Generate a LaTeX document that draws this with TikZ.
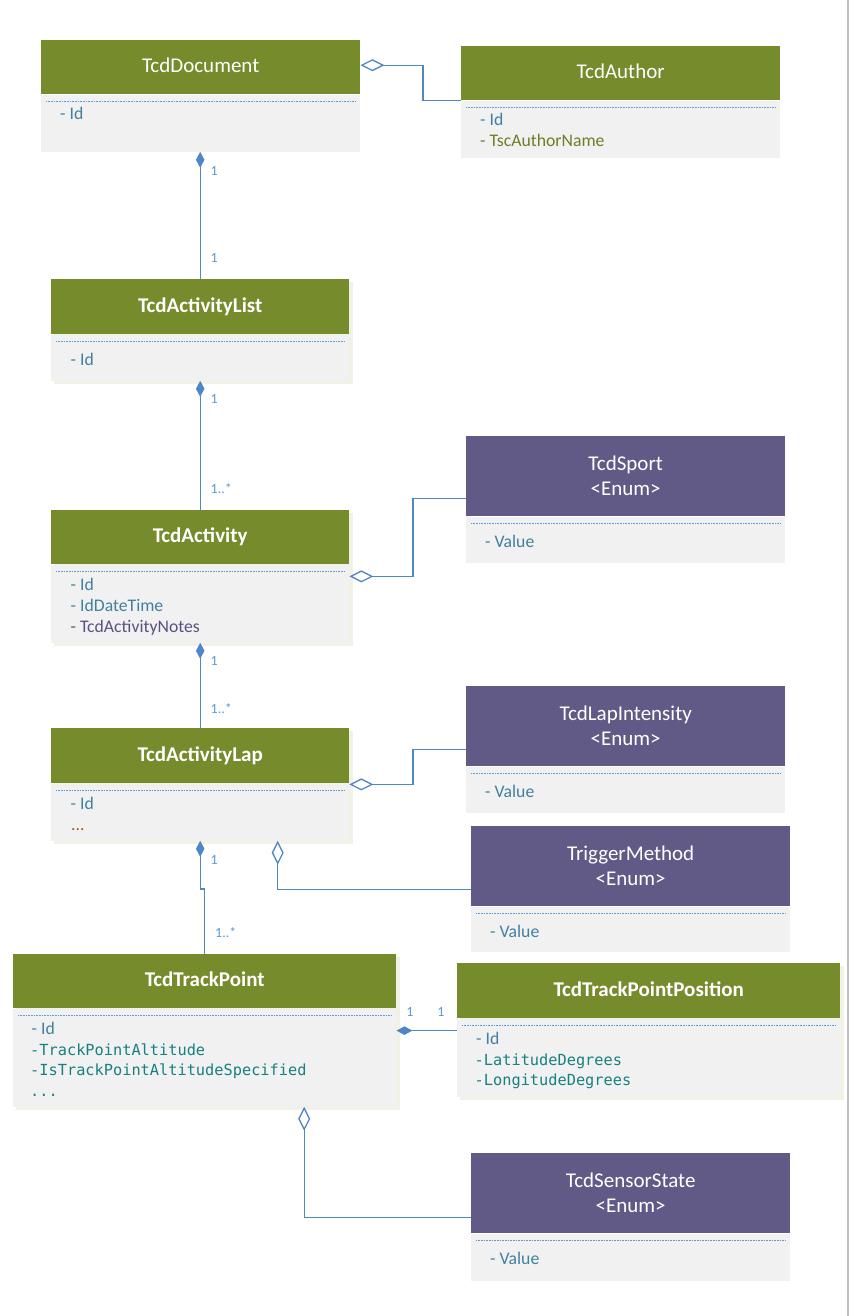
\documentclass[tikz,border=0pt]{standalone}
\usepackage{fontspec}
\setmainfont{Carlito}
\newfontfamily\monof{DejaVu Sans Mono}
\usetikzlibrary{arrows.meta}
\definecolor{hgreen}{HTML}{758B2C}
\definecolor{hpurple}{HTML}{625A86}
\definecolor{bodygray}{HTML}{F1F1F1}
\definecolor{shadowc}{HTML}{F1F1E6}
\definecolor{idc}{HTML}{41809F}
\definecolor{olivec}{HTML}{6E7D27}
\definecolor{notesc}{HTML}{5B5180}
\definecolor{dotsc}{HTML}{B4561C}
\definecolor{monoc}{HTML}{178080}
\definecolor{multc}{HTML}{5B9BD5}
\definecolor{connc}{HTML}{4F87C6}
\definecolor{sepc}{HTML}{5B9BD5}
\begin{document}
\begin{tikzpicture}[x=1pt,y=-1pt,
  hdrbase/.style={inner sep=0pt, anchor=north west, text=white, font=\fontsize{21}{25}\selectfont},
  ghdr/.style={hdrbase, fill=hgreen, text height=14.5pt, text depth=3.5pt},
  bhdr/.style={ghdr, font=\fontsize{21}{25}\selectfont\bfseries},
  phdr/.style={hdrbase, fill=hpurple, align=center},
  bodybox/.style={fill=bodygray, inner sep=0pt, anchor=north west},
  attr/.style={anchor=base west, inner sep=0pt, font=\fontsize{17.7}{21}\selectfont, text=idc},
  mattr/.style={anchor=base west, inner sep=0pt, font=\monof\fontsize{15.3}{21}\selectfont, text=monoc},
  mult/.style={anchor=west, inner sep=0pt, font=\fontsize{14}{16}\selectfont, text=multc},
  sepline/.style={draw=sepc, line width=0.8pt, dash pattern=on 0.8pt off 0.8pt},
  conn/.style={draw=connc, line width=1.3pt},
  agg/.style={conn, -{Diamond[open, length=24pt, width=12pt]}},
  comp/.style={conn, -{Diamond[length=16pt, width=8.5pt]}}
]
\useasboundingbox (0,0) rectangle (850,1316);
\fill[white] (0,0) rectangle (850,1316);
\draw[color=black!25, line width=1.5pt] (848,0) -- (848,1316);

% shadows
\fill[shadowc] (54,282) rectangle (353,384);
\fill[shadowc] (54,513) rectangle (353,646);
\fill[shadowc] (54,731) rectangle (353,844);
\fill[shadowc] (16,957) rectangle (400,1110);
\fill[shadowc] (460,966) rectangle (844,1100);

% TcdDocument
\node[ghdr, minimum width=319pt, minimum height=54pt] (docH) at (41,40) {TcdDocument};
\node[bodybox, minimum width=319pt, minimum height=57pt] (docB) at (docH.south west) {};
\draw[sepline] ([xshift=5pt,yshift=-7pt]docB.north west) -- ([xshift=-5pt,yshift=-7pt]docB.north east);
\node[attr] (docA1) at (60,120) {- Id};

% TcdAuthor
\node[ghdr, minimum width=319pt, minimum height=54pt] (authH) at (461,46) {TcdAuthor};
\node[bodybox, minimum width=319pt, minimum height=57pt] (authB) at (authH.south west) {};
\draw[sepline] ([xshift=5pt,yshift=-7pt]authB.north west) -- ([xshift=-5pt,yshift=-7pt]authB.north east);
\node[attr] (authA1) at (480,125.7) {- Id};
\node[attr, text=olivec] (authA2) at (480,146.7) {- TscAuthorName};

% TcdActivityList
\node[bhdr, minimum width=298pt, minimum height=55pt] (alH) at (51,279) {TcdActivityList};
\node[bodybox, minimum width=298pt, minimum height=46pt] (alB) at (alH.south west) {};
\draw[sepline] ([xshift=5pt,yshift=-7pt]alB.north west) -- ([xshift=-5pt,yshift=-7pt]alB.north east);
\node[attr] (alA1) at (70.5,365) {- Id};

% TcdActivity
\node[bhdr, minimum width=298pt, minimum height=54pt] (actH) at (51,510) {TcdActivity};
\node[bodybox, minimum width=298pt, minimum height=78pt] (actB) at (actH.south west) {};
\draw[sepline] ([xshift=5pt,yshift=-7pt]actB.north west) -- ([xshift=-5pt,yshift=-7pt]actB.north east);
\node[attr] (actA1) at (70.5,590) {- Id};
\node[attr] (actA2) at (70.5,611) {- IdDateTime};
\node[attr, text=notesc] (actA3) at (70.5,632) {- TcdActivityNotes};

% TcdActivityLap
\node[bhdr, minimum width=298pt, minimum height=55pt] (lapH) at (51,728) {TcdActivityLap};
\node[bodybox, minimum width=298pt, minimum height=57pt] (lapB) at (lapH.south west) {};
\draw[sepline] ([xshift=5pt,yshift=-7pt]lapB.north west) -- ([xshift=-5pt,yshift=-7pt]lapB.north east);
\node[attr] (lapA1) at (70.5,809.3) {- Id};
\node[attr, text=dotsc] (lapA2) at (71,830.7) {...};

% TcdTrackPoint
\node[bhdr, minimum width=383pt, minimum height=54pt] (tpH) at (13,954) {TcdTrackPoint};
\node[bodybox, minimum width=383pt, minimum height=98pt] (tpB) at (tpH.south west) {};
\draw[sepline] ([xshift=5pt,yshift=-7pt]tpB.north west) -- ([xshift=-5pt,yshift=-7pt]tpB.north east);
\node[attr] (tpA1) at (31.5,1034) {- Id};
\node[mattr] (tpA2) at (30,1055) {-TrackPointAltitude};
\node[mattr] (tpA3) at (30,1075.3) {-IsTrackPointAltitudeSpecified};
\node[mattr] (tpA4) at (30,1096.7) {...};

% TcdTrackPointPosition
\node[bhdr, minimum width=383pt, minimum height=55pt] (posH) at (457,963) {TcdTrackPointPosition};
\node[bodybox, minimum width=383pt, minimum height=78pt] (posB) at (posH.south west) {};
\draw[sepline] ([xshift=5pt,yshift=-7pt]posB.north west) -- ([xshift=-5pt,yshift=-7pt]posB.north east);
\node[attr] (posA1) at (476,1044) {- Id};
\node[mattr] (posA2) at (474.5,1065) {-LatitudeDegrees};
\node[mattr] (posA3) at (474.5,1085.3) {-LongitudeDegrees};

% Enums
\node[phdr, minimum width=319pt, minimum height=80pt] (sportH) at (466,436) {TcdSport\\<Enum>};
\node[bodybox, minimum width=319pt, minimum height=46pt] (sportB) at (sportH.south west) {};
\draw[sepline] ([xshift=5pt,yshift=-7pt]sportB.north west) -- ([xshift=-5pt,yshift=-7pt]sportB.north east);
\node[attr] (sportA1) at (485,547.3) {- Value};

\node[phdr, minimum width=319pt, minimum height=80pt] (liH) at (466,686) {TcdLapIntensity\\<Enum>};
\node[bodybox, minimum width=319pt, minimum height=46pt] (liB) at (liH.south west) {};
\draw[sepline] ([xshift=5pt,yshift=-7pt]liB.north west) -- ([xshift=-5pt,yshift=-7pt]liB.north east);
\node[attr] (liA1) at (485,797.3) {- Value};

\node[phdr, minimum width=319pt, minimum height=80pt] (trigH) at (471,826) {TriggerMethod\\<Enum>};
\node[bodybox, minimum width=319pt, minimum height=45pt] (trigB) at (trigH.south west) {};
\draw[sepline] ([xshift=5pt,yshift=-7pt]trigB.north west) -- ([xshift=-5pt,yshift=-7pt]trigB.north east);
\node[attr] (trigA1) at (490,937.3) {- Value};

\node[phdr, minimum width=319pt, minimum height=80pt] (ssH) at (471,1153) {TcdSensorState\\<Enum>};
\node[bodybox, minimum width=319pt, minimum height=47pt] (ssB) at (ssH.south west) {};
\draw[sepline] ([xshift=5pt,yshift=-7pt]ssB.north west) -- ([xshift=-5pt,yshift=-7pt]ssB.north east);
\node[attr] (ssA1) at (490,1264.3) {- Value};

% connectors
\draw[agg] (authH.south west) -- ++(-38,0) |- ([yshift=2pt]docH.east);
\draw[comp] (alH.north) -- (alH.north |- docB.south);
\draw[comp] (actH.north) -- (alB.south);
\draw[comp] (lapH.north) -- (actB.south);
\draw[agg] ([yshift=-22pt]sportH.west) -- ++(-53,0) |- ([yshift=-12pt]actH.south east);
\draw[agg] ([yshift=-23pt]liH.west) -- ++(-53,0) |- ([yshift=-1pt]lapH.south east);
\draw[agg] ([yshift=-23pt]trigH.west) -| ([xshift=77.5pt]lapB.south);
\draw[comp] (tpH.north) -- ++(0,-65) -| (lapB.south);
\draw[comp] ([yshift=27pt]posB.west) -- ([yshift=27pt]tpB.east);
\draw[agg] ([yshift=-24pt]ssH.west) -| ([xshift=99.5pt]tpB.south);

% multiplicities
\node[mult] (m1) at (210.5,171) {1};
\node[mult] (m2) at (210.5,258) {1};
\node[mult] (m3) at (210.5,399) {1};
\node[mult] (m4) at (210.5,489) {1..*};
\node[mult] (m5) at (210.5,661) {1};
\node[mult] (m6) at (210.5,708.5) {1..*};
\node[mult] (m7) at (210.5,859.5) {1};
\node[mult] (m8) at (215,933) {1..*};
\node[mult, anchor=center] (m9) at (410,1012) {1};
\node[mult, anchor=center] (m10) at (441,1012) {1};
\end{tikzpicture}
\end{document}
